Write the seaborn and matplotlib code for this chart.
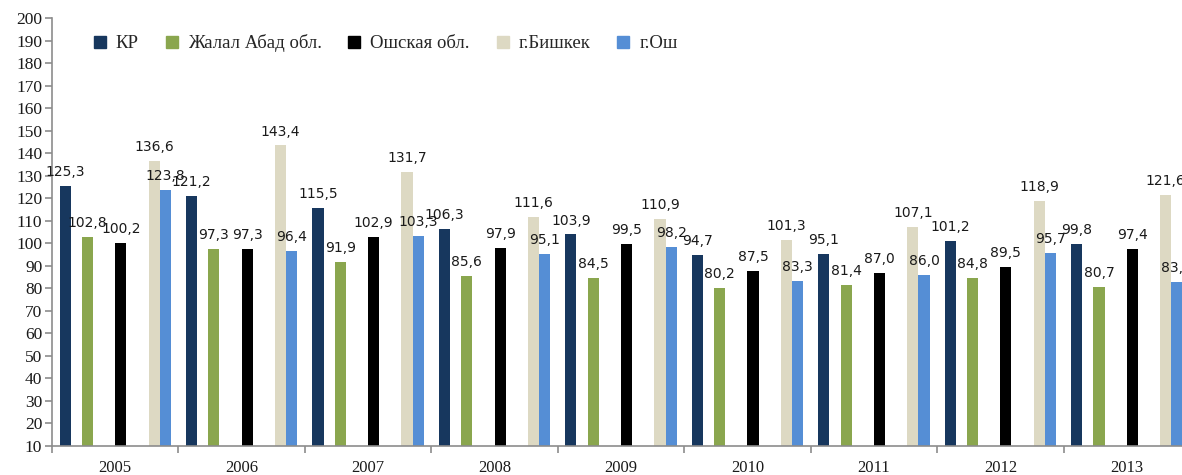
import matplotlib
matplotlib.use("Agg")
import matplotlib.pyplot as plt
from matplotlib.lines import Line2D
from matplotlib.ticker import MultipleLocator, FixedLocator
import seaborn as sns
import pandas as pd

years = ["2005", "2006", "2007", "2008", "2009", "2010", "2011", "2012", "2013"]
series = ["КР", "Жалал Абад обл.", "Ошская обл.", "г.Бишкек", "г.Ош"]
kr = [125.3, 121.2, 115.5, 106.3, 103.9, 94.7, 95.1, 101.2, 99.8]
jalal = [102.8, 97.3, 91.9, 85.6, 84.5, 80.2, 81.4, 84.8, 80.7]
osh_obl = [100.2, 97.3, 102.9, 97.9, 99.5, 87.5, 87.0, 89.5, 97.4]
bishkek = [136.6, 143.4, 131.7, 111.6, 110.9, 101.3, 107.1, 118.9, 121.6]
osh_city = [123.8, 96.4, 103.3, 95.1, 98.2, 83.3, 86.0, 95.7, 83.0]
colors = ["#17375E", "#8AA64E", "#000000", "#DDD9C3", "#558ED5"]

values = [kr, jalal, osh_obl, bishkek, osh_city]
rows = []
for s, vals in zip(series, values):
    for y, v in zip(years, vals):
        rows.append({"year": y, "series": s, "value": v})
df = pd.DataFrame(rows)

# slot layout of the original clustered chart (some empty slots between series)
slots = ["КР", "_e1", "Жалал Абад обл.", "_e2", "_e3", "Ошская обл.", "_e4", "_e5", "г.Бишкек", "г.Ош"]
palette = {s: c for s, c in zip(series, colors)}
for s in slots:
    palette.setdefault(s, "#ffffff")

sns.set_theme(style="white")
plt.rcParams["font.family"] = ["Liberation Serif", "DejaVu Serif"]

fig = plt.figure(figsize=(11.82, 4.75), dpi=100)
ax = fig.add_axes([52 / 1182, 29 / 475, (1190 - 52) / 1182, 428 / 475])

sns.barplot(data=df, x="year", y="value", hue="series", hue_order=slots,
            order=years, palette=palette, width=0.88, gap=0, dodge=True,
            saturation=1, legend=False, ax=ax, errorbar=None, linewidth=0)

for c in ax.containers:
    dv = c.datavalues
    if len(dv) == 0:
        continue
    ax.bar_label(c, labels=[f"{v:.1f}".replace(".", ",") for v in dv],
                 padding=5, fontsize=10, family="DejaVu Sans", color="#1a1a1a")

ax.set_xlim(-0.5, 8.5)
ax.set_ylim(10, 200)
ax.yaxis.set_major_locator(MultipleLocator(10))
ax.set_xlabel("")
ax.set_ylabel("")
for sp in ["top", "right"]:
    ax.spines[sp].set_visible(False)
for sp in ["left", "bottom"]:
    ax.spines[sp].set_color("#8c8c8c")
    ax.spines[sp].set_linewidth(1.2)

ax.tick_params(axis="y", which="major", left=True, length=5, width=1.2,
               color="#8c8c8c", labelsize=12.5, pad=2)
ax.set_xticks(range(len(years)))
ax.set_xticklabels(years)
ax.tick_params(axis="x", which="major", bottom=False, length=0, labelsize=12, pad=10)
ax.xaxis.set_minor_locator(FixedLocator([i - 0.5 for i in range(len(years) + 1)]))
ax.tick_params(axis="x", which="minor", bottom=True, length=5, width=1.2, color="#8c8c8c")
for t in ax.get_yticklabels() + ax.get_xticklabels():
    t.set_color("#1a1a1a")

handles = [Line2D([0], [0], marker="s", linestyle="", markersize=8.5,
                  markerfacecolor=c, markeredgecolor=c) for c in colors]
fig.legend(handles, series, loc="upper left", bbox_to_anchor=(83 / 1182, 1 - 25 / 475),
           ncol=5, frameon=False, fontsize=13.5, handlelength=0.8, handletextpad=0.45,
           columnspacing=1.35, borderpad=0)

fig.savefig("out.png", dpi=100)
